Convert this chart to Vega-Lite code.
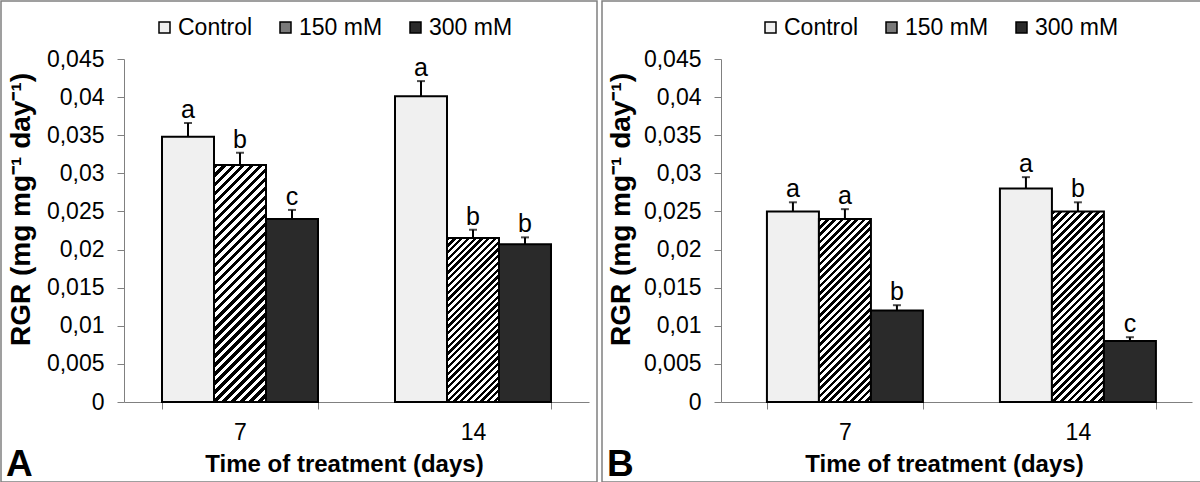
{
  "$schema": "https://vega.github.io/schema/vega-lite/v6.json",
  "padding": 0,
  "background": "white",
  "spacing": 3,
  "params": [
    {"name": "hatch", "value": [
      {"offset":0,"color":"#000"},{"offset":0.015625,"color":"#000"},{"offset":0.015625,"color":"#fff"},{"offset":0.03125,"color":"#fff"},
      {"offset":0.03125,"color":"#000"},{"offset":0.046875,"color":"#000"},{"offset":0.046875,"color":"#fff"},{"offset":0.0625,"color":"#fff"},
      {"offset":0.0625,"color":"#000"},{"offset":0.078125,"color":"#000"},{"offset":0.078125,"color":"#fff"},{"offset":0.09375,"color":"#fff"},
      {"offset":0.09375,"color":"#000"},{"offset":0.109375,"color":"#000"},{"offset":0.109375,"color":"#fff"},{"offset":0.125,"color":"#fff"},
      {"offset":0.125,"color":"#000"},{"offset":0.140625,"color":"#000"},{"offset":0.140625,"color":"#fff"},{"offset":0.15625,"color":"#fff"},
      {"offset":0.15625,"color":"#000"},{"offset":0.171875,"color":"#000"},{"offset":0.171875,"color":"#fff"},{"offset":0.1875,"color":"#fff"},
      {"offset":0.1875,"color":"#000"},{"offset":0.203125,"color":"#000"},{"offset":0.203125,"color":"#fff"},{"offset":0.21875,"color":"#fff"},
      {"offset":0.21875,"color":"#000"},{"offset":0.234375,"color":"#000"},{"offset":0.234375,"color":"#fff"},{"offset":0.25,"color":"#fff"},
      {"offset":0.25,"color":"#000"},{"offset":0.265625,"color":"#000"},{"offset":0.265625,"color":"#fff"},{"offset":0.28125,"color":"#fff"},
      {"offset":0.28125,"color":"#000"},{"offset":0.296875,"color":"#000"},{"offset":0.296875,"color":"#fff"},{"offset":0.3125,"color":"#fff"},
      {"offset":0.3125,"color":"#000"},{"offset":0.328125,"color":"#000"},{"offset":0.328125,"color":"#fff"},{"offset":0.34375,"color":"#fff"},
      {"offset":0.34375,"color":"#000"},{"offset":0.359375,"color":"#000"},{"offset":0.359375,"color":"#fff"},{"offset":0.375,"color":"#fff"},
      {"offset":0.375,"color":"#000"},{"offset":0.390625,"color":"#000"},{"offset":0.390625,"color":"#fff"},{"offset":0.40625,"color":"#fff"},
      {"offset":0.40625,"color":"#000"},{"offset":0.421875,"color":"#000"},{"offset":0.421875,"color":"#fff"},{"offset":0.4375,"color":"#fff"},
      {"offset":0.4375,"color":"#000"},{"offset":0.453125,"color":"#000"},{"offset":0.453125,"color":"#fff"},{"offset":0.46875,"color":"#fff"},
      {"offset":0.46875,"color":"#000"},{"offset":0.484375,"color":"#000"},{"offset":0.484375,"color":"#fff"},{"offset":0.5,"color":"#fff"},
      {"offset":0.5,"color":"#000"},{"offset":0.515625,"color":"#000"},{"offset":0.515625,"color":"#fff"},{"offset":0.53125,"color":"#fff"},
      {"offset":0.53125,"color":"#000"},{"offset":0.546875,"color":"#000"},{"offset":0.546875,"color":"#fff"},{"offset":0.5625,"color":"#fff"},
      {"offset":0.5625,"color":"#000"},{"offset":0.578125,"color":"#000"},{"offset":0.578125,"color":"#fff"},{"offset":0.59375,"color":"#fff"},
      {"offset":0.59375,"color":"#000"},{"offset":0.609375,"color":"#000"},{"offset":0.609375,"color":"#fff"},{"offset":0.625,"color":"#fff"},
      {"offset":0.625,"color":"#000"},{"offset":0.640625,"color":"#000"},{"offset":0.640625,"color":"#fff"},{"offset":0.65625,"color":"#fff"},
      {"offset":0.65625,"color":"#000"},{"offset":0.671875,"color":"#000"},{"offset":0.671875,"color":"#fff"},{"offset":0.6875,"color":"#fff"},
      {"offset":0.6875,"color":"#000"},{"offset":0.703125,"color":"#000"},{"offset":0.703125,"color":"#fff"},{"offset":0.71875,"color":"#fff"},
      {"offset":0.71875,"color":"#000"},{"offset":0.734375,"color":"#000"},{"offset":0.734375,"color":"#fff"},{"offset":0.75,"color":"#fff"},
      {"offset":0.75,"color":"#000"},{"offset":0.765625,"color":"#000"},{"offset":0.765625,"color":"#fff"},{"offset":0.78125,"color":"#fff"},
      {"offset":0.78125,"color":"#000"},{"offset":0.796875,"color":"#000"},{"offset":0.796875,"color":"#fff"},{"offset":0.8125,"color":"#fff"},
      {"offset":0.8125,"color":"#000"},{"offset":0.828125,"color":"#000"},{"offset":0.828125,"color":"#fff"},{"offset":0.84375,"color":"#fff"},
      {"offset":0.84375,"color":"#000"},{"offset":0.859375,"color":"#000"},{"offset":0.859375,"color":"#fff"},{"offset":0.875,"color":"#fff"},
      {"offset":0.875,"color":"#000"},{"offset":0.890625,"color":"#000"},{"offset":0.890625,"color":"#fff"},{"offset":0.90625,"color":"#fff"},
      {"offset":0.90625,"color":"#000"},{"offset":0.921875,"color":"#000"},{"offset":0.921875,"color":"#fff"},{"offset":0.9375,"color":"#fff"},
      {"offset":0.9375,"color":"#000"},{"offset":0.953125,"color":"#000"},{"offset":0.953125,"color":"#fff"},{"offset":0.96875,"color":"#fff"},
      {"offset":0.96875,"color":"#000"},{"offset":0.984375,"color":"#000"},{"offset":0.984375,"color":"#fff"},{"offset":1,"color":"#fff"}
    ]}
  ],
  "data": {"values": [
    {"panel":"A","day":7,"treatment":"Control","value":0.0348,"hi":0.0366,"letter":"a"},
    {"panel":"A","day":7,"treatment":"150 mM","value":0.0311,"hi":0.0327,"letter":"b"},
    {"panel":"A","day":7,"treatment":"300 mM","value":0.0240,"hi":0.0252,"letter":"c"},
    {"panel":"A","day":14,"treatment":"Control","value":0.0401,"hi":0.0421,"letter":"a"},
    {"panel":"A","day":14,"treatment":"150 mM","value":0.0215,"hi":0.0226,"letter":"b"},
    {"panel":"A","day":14,"treatment":"300 mM","value":0.0207,"hi":0.0216,"letter":"b"},
    {"panel":"B","day":7,"treatment":"Control","value":0.0250,"hi":0.0262,"letter":"a"},
    {"panel":"B","day":7,"treatment":"150 mM","value":0.0240,"hi":0.0253,"letter":"a"},
    {"panel":"B","day":7,"treatment":"300 mM","value":0.0120,"hi":0.0127,"letter":"b"},
    {"panel":"B","day":14,"treatment":"Control","value":0.0280,"hi":0.0295,"letter":"a"},
    {"panel":"B","day":14,"treatment":"150 mM","value":0.0250,"hi":0.0262,"letter":"b"},
    {"panel":"B","day":14,"treatment":"300 mM","value":0.0080,"hi":0.0085,"letter":"c"}
  ]},
  "config": {
    "font": "Liberation Sans",
    "view": {"stroke": "#808080", "strokeWidth": 1.5},
    "axis": {
      "domainColor": "#808080", "domainWidth": 1, "tickColor": "#808080", "tickWidth": 1, "tickSize": 7,
      "labelFont": "Liberation Sans", "labelFontSize": 23, "labelColor": "#000",
      "titleFont": "Liberation Sans", "titleFontSize": 24, "titleFontWeight": "bold", "titleColor": "#000",
      "grid": false
    },
    "legend": {"labelFont": "Liberation Sans", "labelFontSize": 23, "labelColor": "#000"},
    "title": {"font": "Liberation Sans", "fontSize": 37, "fontWeight": "bold", "color": "#000"}
  },
  "hconcat": [
    {
      "width": 596, "height": 481,
      "transform": [{"filter": "datum.panel === 'A'"}],
      "title": {"text": "A", "orient": "bottom", "anchor": "start", "frame": "group", "offset": -6, "baseline": "alphabetic", "dx": 5},
      "encoding": {
        "x": {"field": "day", "type": "ordinal", "sort": [7, 14],
              "scale": {"range": [123, 588], "paddingInner": 0.3305, "paddingOuter": 0.1631},
              "axis": {"orient": "bottom", "offset": -80, "labelAngle": 0, "tickBand": "extent", "labelPadding": 12,
                       "title": "Time of treatment (days)", "titleX": 343, "titleY": 69, "titleBaseline": "alphabetic"}},
        "xOffset": {"field": "treatment", "type": "nominal", "sort": ["Control", "150 mM", "300 mM"], "scale": {"paddingInner": 0, "paddingOuter": 0}}
      },
      "layer": [
        {
          "mark": {"type": "bar", "stroke": "#000", "strokeWidth": 2},
          "encoding": {
            "y": {"field": "value", "type": "quantitative", "title": "RGR (mg mg⁻¹ day⁻¹)",
                  "scale": {"domain": [0, 0.045], "range": [401, 58], "nice": false},
                  "axis": {"orient": "left", "offset": -123, "values": [0,0.005,0.01,0.015,0.02,0.025,0.03,0.035,0.04,0.045],
                           "format": ".3~f", "labelExpr": "replace(datum.label, '.', ',')", "labelPadding": 13,
                           "titleX": -103, "titleY": 208, "titleBaseline": "middle", "titleAngle": -90, "titleFontSize": 28}},
            "fill": {
              "condition": [
                {"test": "datum.treatment === '150 mM' && datum.day === 7", "value": {"expr": "{gradient: 'linear', x1: 0, y1: 0, x2: 0.2552, y2: 1.1634, stops: hatch}"}},
                {"test": "datum.treatment === '150 mM'", "value": {"expr": "{gradient: 'linear', x1: 0, y1: 0, x2: 0.3797, y2: 1.1968, stops: hatch}"}}
              ],
              "field": "treatment", "type": "nominal",
              "scale": {"domain": ["Control", "150 mM", "300 mM"], "range": ["#f0f0f0", "#7a7a7a", "#2a2a2a"]},
              "legend": {"orient": "none", "legendX": 152, "legendY": 15, "direction": "horizontal", "title": null,
                         "symbolType": "square", "symbolSize": 121, "symbolStrokeColor": "#000", "symbolStrokeWidth": 1.5,
                         "labelOffset": 2, "columnPadding": 21, "gridAlign": "none"}
            }
          }
        },
        {
          "mark": {"type": "rule", "stroke": "#000", "strokeWidth": 2},
          "encoding": {"y": {"field": "value", "type": "quantitative", "title": "RGR (mg mg⁻¹ day⁻¹)"}, "y2": {"field": "hi"}}
        },
        {
          "mark": {"type": "tick", "color": "#000", "thickness": 2},
          "encoding": {"y": {"field": "hi", "type": "quantitative", "title": "RGR (mg mg⁻¹ day⁻¹)"}, "size": {"value": 8}}
        },
        {
          "mark": {"type": "text", "fontSize": 25, "baseline": "alphabetic", "dy": -5, "color": "#000"},
          "encoding": {"y": {"field": "hi", "type": "quantitative", "title": "RGR (mg mg⁻¹ day⁻¹)"}, "text": {"field": "letter"}}
        }
      ]
    },
    {
      "width": 600, "height": 481,
      "transform": [{"filter": "datum.panel === 'B'"}],
      "title": {"text": "B", "orient": "bottom", "anchor": "start", "frame": "group", "offset": -6, "baseline": "alphabetic", "dx": 5},
      "encoding": {
        "x": {"field": "day", "type": "ordinal", "sort": [7, 14],
              "scale": {"range": [119, 590], "paddingInner": 0.3305, "paddingOuter": 0.176, "align": 0.56},
              "axis": {"orient": "bottom", "offset": -80, "labelAngle": 0, "tickBand": "extent", "labelPadding": 12,
                       "title": "Time of treatment (days)", "titleX": 342, "titleY": 69, "titleBaseline": "alphabetic"}},
        "xOffset": {"field": "treatment", "type": "nominal", "sort": ["Control", "150 mM", "300 mM"], "scale": {"paddingInner": 0, "paddingOuter": 0}}
      },
      "layer": [
        {
          "mark": {"type": "bar", "stroke": "#000", "strokeWidth": 2},
          "encoding": {
            "y": {"field": "value", "type": "quantitative", "title": "RGR (mg mg⁻¹ day⁻¹)",
                  "scale": {"domain": [0, 0.045], "range": [401, 58], "nice": false},
                  "axis": {"orient": "left", "offset": -119, "values": [0,0.005,0.01,0.015,0.02,0.025,0.03,0.035,0.04,0.045],
                           "format": ".3~f", "labelExpr": "replace(datum.label, '.', ',')", "labelPadding": 13,
                           "titleX": -100, "titleY": 208, "titleBaseline": "middle", "titleAngle": -90, "titleFontSize": 28}},
            "fill": {
              "condition": [
                {"test": "datum.treatment === '150 mM' && datum.day === 7", "value": {"expr": "{gradient: 'linear', x1: 0, y1: 0, x2: 0.3378, y2: 1.1883, stops: hatch}"}},
                {"test": "datum.treatment === '150 mM'", "value": {"expr": "{gradient: 'linear', x1: 0, y1: 0, x2: 0.3232, y2: 1.1847, stops: hatch}"}}
              ],
              "field": "treatment", "type": "nominal",
              "scale": {"domain": ["Control", "150 mM", "300 mM"], "range": ["#f0f0f0", "#7a7a7a", "#2a2a2a"]},
              "legend": {"orient": "none", "legendX": 157, "legendY": 15, "direction": "horizontal", "title": null,
                         "symbolType": "square", "symbolSize": 121, "symbolStrokeColor": "#000", "symbolStrokeWidth": 1.5,
                         "labelOffset": 2, "columnPadding": 21, "gridAlign": "none"}
            }
          }
        },
        {
          "mark": {"type": "rule", "stroke": "#000", "strokeWidth": 2},
          "encoding": {"y": {"field": "value", "type": "quantitative", "title": "RGR (mg mg⁻¹ day⁻¹)"}, "y2": {"field": "hi"}}
        },
        {
          "mark": {"type": "tick", "color": "#000", "thickness": 2},
          "encoding": {"y": {"field": "hi", "type": "quantitative", "title": "RGR (mg mg⁻¹ day⁻¹)"}, "size": {"value": 8}}
        },
        {
          "mark": {"type": "text", "fontSize": 25, "baseline": "alphabetic", "dy": -5, "color": "#000"},
          "encoding": {"y": {"field": "hi", "type": "quantitative", "title": "RGR (mg mg⁻¹ day⁻¹)"}, "text": {"field": "letter"}}
        }
      ]
    }
  ],
  "resolve": {"scale": {"fill": "independent", "x": "independent", "y": "independent"}, "legend": {"fill": "independent"}}
}
